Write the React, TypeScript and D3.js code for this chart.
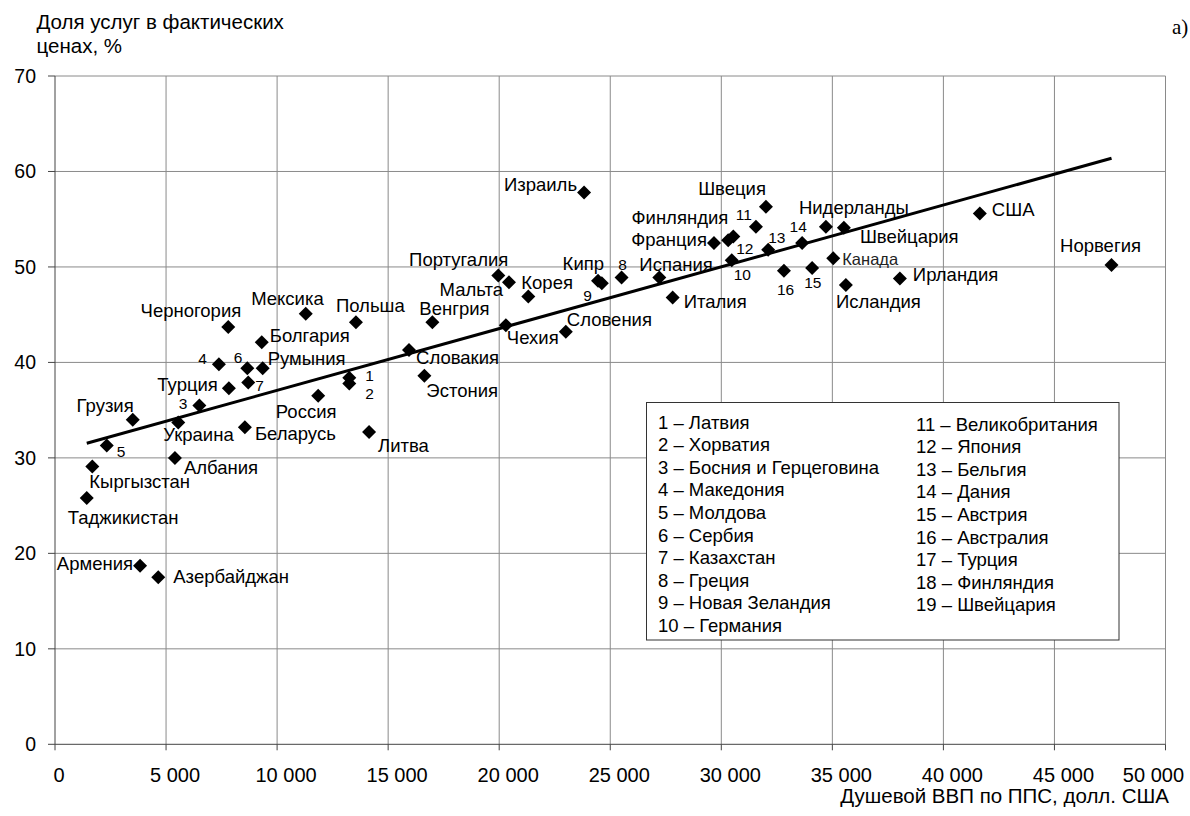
import React from "react";
import * as d3 from "d3";

// ---------- DATA ----------
const countryLabels: string[] = [
  "Черногория", "Мексика", "Польша", "Болгария", "4", "6", "Румыния", "Турция", "7",
  "1", "2", "Россия", "3", "Грузия", "Украина", "Беларусь", "Литва", "5", "Албания",
  "Кыргызстан", "Таджикистан", "Армения", "Азербайджан", "Словакия", "Эстония", "Венгрия",
  "Португалия", "Мальта", "Корея", "Израиль", "Чехия", "Словения", "Кипр", "9", "8",
  "Испания", "Италия", "Швеция", "11", "Франция", "Финляндия", "12", "10", "13", "14",
  "Нидерланды", "Швейцария", "Канада", "16", "15", "Исландия", "Ирландия", "США", "Норвегия",
];
// per-capita GDP (PPP, USD)
const gdpValues: number[] = [
  7800, 11290, 13550, 9310, 7380, 8660, 9350, 7830, 8700,
  13250, 13250, 11850, 6500, 3500, 5550, 8550, 14140, 2330, 5400,
  1680, 1430, 3830, 4650, 15940, 16630, 16990,
  19960, 20440, 21310, 23820, 20300, 23000, 24450, 24620, 25510,
  27210, 27810, 32010, 31560, 29670, 30540, 30310, 30470, 32110, 33640,
  34710, 35520, 35040, 32820, 34090, 35610, 38040, 41640, 47570,
];
// share of services, %
const serviceShares: number[] = [
  43.7, 45.1, 44.2, 42.1, 39.8, 39.4, 39.4, 37.3, 37.9,
  38.4, 37.8, 36.5, 35.5, 34.0, 33.7, 33.2, 32.7, 31.3, 30.0,
  29.1, 25.8, 18.7, 17.5, 41.3, 38.6, 44.2,
  49.1, 48.4, 46.9, 57.8, 43.9, 43.2, 48.55, 48.3, 48.9,
  48.9, 46.8, 56.3, 54.2, 52.5, 53.2, 52.8, 50.7, 51.8, 52.5,
  54.2, 54.1, 50.9, 49.6, 49.9, 48.1, 48.8, 55.6, 50.2,
];
// trend line end points
const trendGdp: number[] = [1430, 47570];
const trendShare: number[] = [31.53, 61.38];

const legendItems: string[] = [
  "1 – Латвия", "2 – Хорватия", "3 – Босния и Герцеговина", "4 – Македония",
  "5 – Молдова", "6 – Сербия", "7 – Казахстан", "8 – Греция", "9 – Новая Зеландия",
  "10 – Германия", "11 – Великобритания", "12 – Япония", "13 – Бельгия", "14 – Дания",
  "15 – Австрия", "16 – Австралия", "17 – Турция", "18 – Финляндия", "19 – Швейцария",
];
const xTicks: number[] = [0, 5000, 10000, 15000, 20000, 25000, 30000, 35000, 40000, 45000, 50000];
const yTicks: number[] = [0, 10, 20, 30, 40, 50, 60, 70];

// ---------- LABEL PLACEMENT (layout only) ----------
type Anchor = "start" | "middle" | "end";
const labelPlacement: [Anchor, number, number][] = [
  ["end", 13, -10], ["end", 18, -9], ["start", -20, -10], ["start", 8, 0], ["end", -12, 0],
  ["end", -5, -5], ["start", 5, -3], ["end", -11, 3], ["start", 7, 9],
  ["start", 16, 3], ["start", 16, 16], ["middle", -12, 22], ["end", -12, 4], ["end", 1, -8],
  ["start", -15, 18], ["start", 10, 13], ["start", 9, 20], ["start", 10, 12], ["start", 9, 16],
  ["start", -3, 22], ["start", -19, 26], ["end", -7, 4], ["start", 15, 6], ["start", 7, 14],
  ["start", 2, 21], ["start", -13, -7],
  ["end", 10, -10], ["end", -6, 14], ["start", -7, -8], ["end", -7, -1], ["start", 1, 19],
  ["start", 1, -6], ["end", 6, -11], ["end", -10, 18], ["middle", 1, -7],
  ["start", -20, -6], ["start", 11, 11], ["end", 0, -12], ["end", -4, -7], ["end", -7, 3],
  ["end", -5, -12], ["start", 8, 14], ["start", 2, 20], ["start", 0, -7], ["middle", -4, -11],
  ["start", -27, -13], ["start", 16, 15], ["start", 9, 7], ["start", -7, 24], ["start", -8, 20],
  ["start", -10, 23], ["start", 13, 3], ["start", 12, 3], ["middle", -11, -13],
];

const W = 1190;
const H = 816;
const FONT = "'Liberation Sans', Arial, Helvetica, sans-serif";

export default function App() {
  const x = d3.scaleLinear().domain([0, 50000]).range([55, 1165.5]);
  const y = d3.scaleLinear().domain([0, 70]).range([744.3, 76]);
  const fmt = (v: number) => (v === 0 ? "0" : d3.format(",")(v).replace(/,/g, " "));
  const line = d3
    .line<number>()
    .x((_, i) => x(trendGdp[i]))
    .y((_, i) => y(trendShare[i]));
  const diamond = (cx: number, cy: number, r = 7) =>
    `M${cx},${cy - r}L${cx + r},${cy}L${cx},${cy + r}L${cx - r},${cy}Z`;

  const isNum = (s: string) => /^\d+$/.test(s);

  return (
    <div style={{ position: "absolute", left: 0, top: 0 }}>
      <svg width={W} height={H} style={{ display: "block", background: "#fff" }} fontFamily={FONT}>
        {/* grid */}
        {xTicks.filter((t) => t > 0).map((t) => (
          <line key={"gx" + t} x1={x(t)} x2={x(t)} y1={y(0)} y2={y(70)} stroke="#8a8a8a" strokeWidth={1} />
        ))}
        {yTicks.filter((t) => t > 0).map((t) => (
          <line key={"gy" + t} x1={x(0)} x2={x(50000)} y1={y(t)} y2={y(t)} stroke="#8a8a8a" strokeWidth={1} />
        ))}
        {/* axes */}
        <line x1={x(0)} x2={x(0)} y1={y(0)} y2={y(70)} stroke="#444" strokeWidth={1} />
        <line x1={x(0)} x2={x(50000)} y1={y(0)} y2={y(0)} stroke="#444" strokeWidth={1} />
        {yTicks.map((t) => (
          <g key={"yt" + t}>
            <line x1={x(0) - 7} x2={x(0)} y1={y(t)} y2={y(t)} stroke="#444" />
            <text x={36} y={y(t) + 7} textAnchor="end" fontSize={19.5} fill="#000">
              {t}
            </text>
          </g>
        ))}
        {xTicks.map((t, i) => (
          <g key={"xt" + t}>
            <line x1={x(t)} x2={x(t)} y1={y(0)} y2={y(0) + 6} stroke="#444" />
            <text
              x={i === xTicks.length - 1 ? 1184 : x(t) + (t === 0 ? 4 : 9)}
              y={782}
              textAnchor={i === xTicks.length - 1 ? "end" : "middle"}
              fontSize={20}
              fill="#000"
            >
              {fmt(t)}
            </text>
          </g>
        ))}

        {/* titles */}
        <text x={36.5} y={29} fontSize={20.5} fill="#000">Доля услуг в фактических</text>
        <text x={36.5} y={52.5} fontSize={20.5} fill="#000">ценах, %</text>
        <text x={1169} y={803} fontSize={20.5} textAnchor="end" fill="#000">Душевой ВВП по ППС, долл. США</text>
        <text x={1172} y={34} fontSize={21} fontFamily="'Liberation Serif', 'DejaVu Serif', serif" fill="#000">а)</text>

        {/* trend */}
        <path d={line([0, 1]) || ""} stroke="#000" strokeWidth={3} fill="none" />

        {/* points */}
        {gdpValues.map((g, i) => (
          <path key={"p" + i} d={diamond(x(g), y(serviceShares[i]))} fill="#000" />
        ))}

        {/* labels */}
        {countryLabels.map((lab, i) => {
          const [anchor, dx, dy] = labelPlacement[i];
          const small = isNum(lab) || lab === "Канада";
          return (
            <text
              key={"l" + i}
              x={x(gdpValues[i]) + dx}
              y={y(serviceShares[i]) + dy}
              textAnchor={anchor}
              fontSize={isNum(lab) ? 15.5 : small ? 16.5 : 18.5}
              fill={lab === "Канада" ? "#222" : "#000"}
            >
              {lab}
            </text>
          );
        })}

        {/* legend */}
        <rect x={646.5} y={402.5} width={472.5} height={237.5} fill="#fff" stroke="#333" strokeWidth={1} />
        {legendItems.map((item, i) => {
          const col = i < 10 ? 0 : 1;
          const row = i < 10 ? i : i - 10;
          return (
            <text
              key={"lg" + i}
              x={col === 0 ? 658 : 916}
              y={(col === 0 ? 428.5 : 430.5) + row * 22.6}
              fontSize={18.5}
              fill="#000"
            >
              {item}
            </text>
          );
        })}
      </svg>
    </div>
  );
}
